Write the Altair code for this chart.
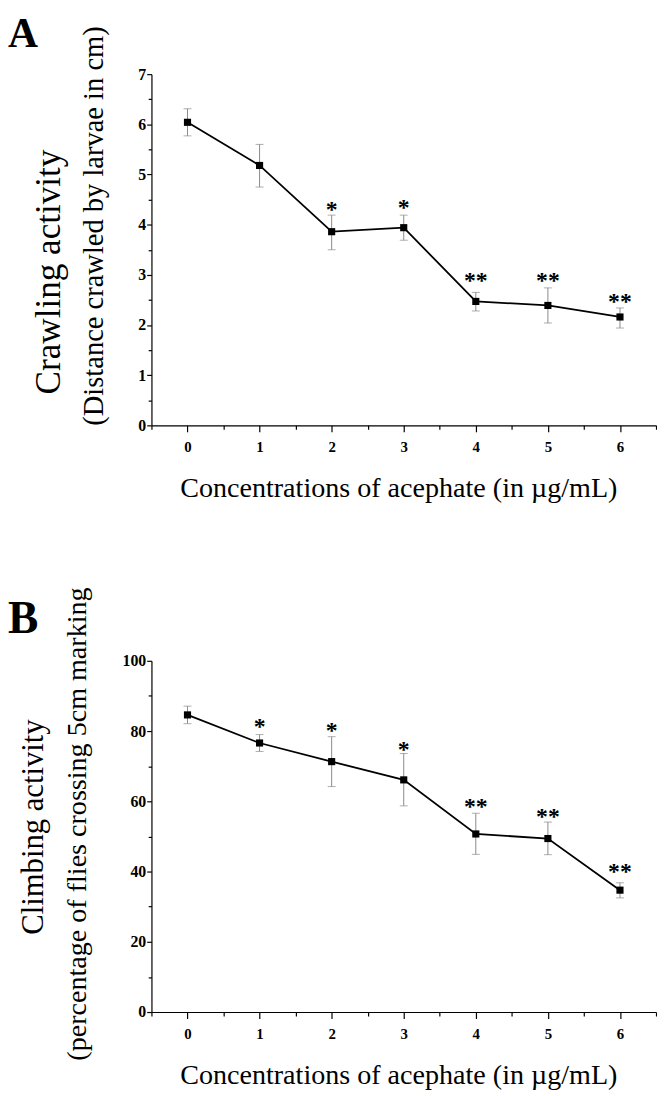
import altair as alt
import pandas as pd

FONT = "Liberation Serif"

# ---------------- data ----------------
conc = [0, 1, 2, 3, 4, 5, 6]

crawl_mean = [6.04, 5.18, 3.86, 3.94, 2.47, 2.39, 2.16]
crawl_hi = [6.31, 5.60, 4.19, 4.19, 2.65, 2.74, 2.34]
crawl_lo = [5.77, 4.75, 3.50, 3.69, 2.28, 2.04, 1.94]
crawl_sig = ["", "", "*", "*", "**", "**", "**"]
crawl_sig_y = [None, None, 4.38, 4.42, 2.97, 2.97, 2.56]

climb_mean = [84.6, 76.6, 71.3, 66.1, 50.7, 49.4, 34.7]
climb_hi = [87.1, 79.0, 78.4, 73.6, 56.6, 54.1, 36.8]
climb_lo = [82.1, 74.2, 64.2, 58.7, 44.9, 44.8, 32.5]
climb_sig = ["", "*", "*", "*", "**", "**", "**"]
climb_sig_y = [None, 82.5, 81.3, 76.0, 59.9, 56.8, 41.2]

x_ticks = [-0.5, 0, 0.5, 1, 1.5, 2, 2.5, 3, 3.5, 4, 4.5, 5, 5.5, 6, 6.5]
crawl_yticks = [0, 0.5, 1, 1.5, 2, 2.5, 3, 3.5, 4, 4.5, 5, 5.5, 6, 6.5, 7]
climb_yticks = [0, 10, 20, 30, 40, 50, 60, 70, 80, 90, 100]

x_title = "Concentrations of acephate (in µg/mL)"
crawl_title = ["Crawling activity", "(Distance crawled by larvae in cm)"]
climb_title = ["Climbing activity", "(percentage of flies crossing 5cm marking"]
panel_letters = ["A", "B"]

W, H = 510, 355


def make_panel(means, his, los, sigs, sig_ys, ydomain, yticks, label_step,
               title_lines, title_sizes, title_xs, title_ys,
               letter, letter_size, letter_y):
    df = pd.DataFrame({"conc": conc, "mean": means, "hi": his, "lo": los})
    sdf = pd.DataFrame({"conc": conc, "sig": sigs, "sy": sig_ys}).dropna()

    xaxis = alt.Axis(
        values=x_ticks,
        labelExpr="datum.value % 1 ? '' : '' + datum.value",
        labelOverlap=False,
        labelFlush=False,
        labelFont=FONT,
        labelFontSize=15,
        labelFontWeight="bold",
        labelColor="black",
        tickSize={"condition": {"test": "datum.value % 1 != 0", "value": 4}, "value": 6.5},
        labelPadding=8,
        title=x_title,
        titleFont=FONT,
        titleFontSize=28.4,
        titleFontWeight="normal",
        titleColor="black",
        titleBaseline="alphabetic",
        titleAlign="center",
        titleAnchor="middle",
        titleX=249.5,
        titleY=72.4,
    )
    yaxis = alt.Axis(
        values=yticks,
        labelExpr=f"datum.value % {label_step} ? '' : '' + datum.value",
        labelOverlap=False,
        labelFlush=False,
        labelFont=FONT,
        labelFontSize=16,
        labelFontWeight="bold",
        labelColor="black",
        tickSize={"condition": {"test": f"datum.value % {label_step} != 0", "value": 3.3}, "value": 4.8},
        labelPadding=1,
    )
    xs = alt.Scale(domain=[-0.5, 6.5], nice=False, zero=False)
    ys = alt.Scale(domain=ydomain, nice=False, zero=True)

    X = alt.X("conc:Q", scale=xs, axis=xaxis)

    err = alt.Chart(df).mark_errorbar(
        ticks=True, color="#8a8a8a", thickness=1, size=8
    ).encode(
        x=X,
        y=alt.Y("lo:Q", scale=ys, axis=yaxis, title=None),
        y2="hi:Q",
    )
    line = alt.Chart(df).mark_line(color="black", strokeWidth=1.8).encode(
        x=X, y=alt.Y("mean:Q", scale=ys, axis=yaxis, title=None)
    )
    pts = alt.Chart(df).mark_square(color="black", opacity=1, size=52).encode(
        x=X, y=alt.Y("mean:Q", scale=ys, axis=yaxis, title=None)
    )
    stars = alt.Chart(sdf).mark_text(
        font=FONT, fontSize=24, fontWeight="bold", baseline="middle", dy=5, color="black"
    ).encode(
        x=X, y=alt.Y("sy:Q", scale=ys, axis=yaxis, title=None), text="sig:N"
    )
    layers = [err, line, pts, stars]
    for i, t in enumerate(title_lines):
        layers.append(
            alt.Chart(pd.DataFrame({"t": [t]})).mark_text(
                font=FONT, fontSize=title_sizes[i], angle=270, align="center",
                baseline="alphabetic", color="black"
            ).encode(text="t:N", x=alt.value(title_xs[i]), y=alt.value(title_ys[i]))
        )
    layers.append(
        alt.Chart(pd.DataFrame({"t": [letter]})).mark_text(
            font=FONT, fontSize=letter_size, fontWeight="bold", align="left",
            baseline="top", color="black"
        ).encode(text="t:N", x=alt.value(-145), y=alt.value(letter_y))
    )
    return alt.layer(*layers).properties(width=W, height=H)


panelA = make_panel(crawl_mean, crawl_hi, crawl_lo, crawl_sig, crawl_sig_y,
                    [0, 7], crawl_yticks, 1,
                    crawl_title, [35.5, 28.8], [-92, -49], [200, 153.5],
                    panel_letters[0], 42, -60)
panelB = make_panel(climb_mean, climb_hi, climb_lo, climb_sig, climb_sig_y,
                    [0, 100], climb_yticks, 20,
                    climb_title, [31, 28.4], [-110, -66], [168, 165],
                    panel_letters[1], 46, -64)

chart = alt.vconcat(panelA, panelB, spacing=85).properties(
    padding=0
).configure_view(stroke=None).configure_axis(
    grid=False,
    domainColor="black",
    domainWidth=1.2,
    tickColor="black",
    tickWidth=1.2,
)

chart.save("out.html", embed_options={"renderer": "svg", "actions": False})
